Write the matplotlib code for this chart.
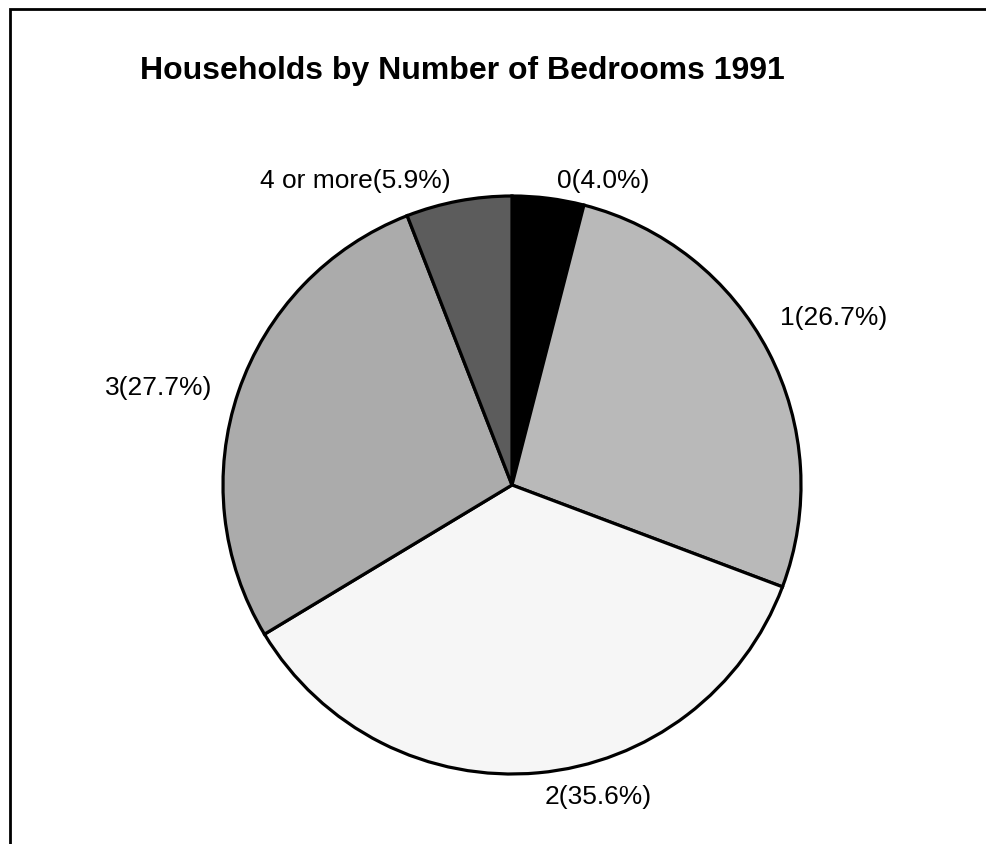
import matplotlib
matplotlib.use("Agg")
import matplotlib.pyplot as plt

plt.rcParams['font.family'] = ['Liberation Sans', 'DejaVu Sans']

# data (clockwise from 12 o'clock)
bedrooms = ['0', '1', '2', '3', '4 or more']
share = [4.0, 26.7, 35.6, 27.7, 5.9]
shades = ['#000000', '#b9b9b9', '#f6f6f6', '#ababab', '#5c5c5c']

title = "Households by Number of Bedrooms 1991"

W, H = 987, 845
fig = plt.figure(figsize=(W / 100, H / 100), dpi=100)
ax = fig.add_axes([0, 0, 1, 1])

ax.pie(share, colors=shades, startangle=90, counterclock=False,
       center=(512, H - 486), radius=289,
       wedgeprops=dict(edgecolor='black', linewidth=2.3))

ax.set_xlim(0, W)
ax.set_ylim(0, H)
ax.set_aspect('equal')
ax.axis('off')

# label positions in image pixels (x left, y centre)
label_pos = [(557, 181), (780, 318), (545, 797), (105, 388), (260, 181)]
for name, val, (lx, ly) in zip(bedrooms, share, label_pos):
    ax.text(lx, H - ly, f"{name}({val:.1f}%)", fontsize=19,
            ha='left', va='center')

ax.text(140, H - 71, title, fontsize=23, fontweight='bold',
        ha='left', va='center')

# scanned page border (left and top)
ax.plot([10, 10, W], [0, H - 10, H - 10], color='black', linewidth=2,
        solid_joinstyle='miter')

fig.savefig('out.png', dpi=100)
